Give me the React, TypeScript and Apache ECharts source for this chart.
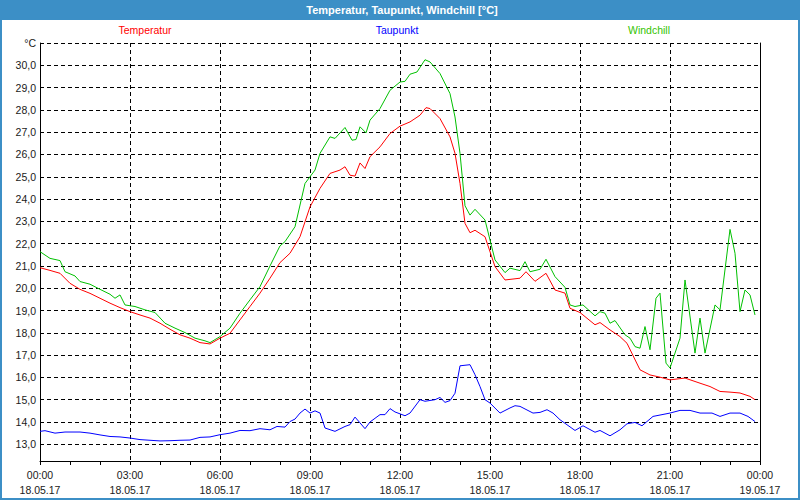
import React, { useEffect, useRef } from "react";
import * as echarts from "echarts";

// minutes since 18.05.17 00:00
const tempTimes = [0, 20, 40, 60, 80, 100, 120, 140, 160, 180, 200, 220, 240, 260, 280, 300, 320, 340, 360, 380, 400, 420, 440, 460, 480, 500, 520, 540, 560, 580, 600, 610, 620, 630, 640, 650, 660, 680, 700, 720, 740, 760, 772, 780, 800, 820, 830, 840, 850, 860, 870, 890, 910, 930, 960, 972, 990, 1012, 1030, 1050, 1060, 1080, 1110, 1120, 1140, 1160, 1174, 1200, 1220, 1240, 1260, 1290, 1320, 1340, 1360, 1380, 1400, 1420, 1430];
const tempValues = [20.92, 20.8, 20.67, 20.22, 19.95, 19.77, 19.55, 19.33, 19.13, 18.95, 18.8, 18.66, 18.43, 18.16, 17.91, 17.76, 17.56, 17.5, 17.76, 17.98, 18.58, 19.18, 19.78, 20.45, 21.15, 21.57, 22.31, 23.65, 24.48, 25.15, 25.3, 25.45, 25.07, 25.03, 25.62, 25.37, 25.9, 26.34, 26.94, 27.27, 27.46, 27.76, 28.1, 28.06, 27.61, 26.79, 26.05, 24.7, 22.91, 22.49, 22.6, 22.31, 20.97, 20.37, 20.45, 20.74, 20.31, 20.67, 19.92, 19.78, 19.1, 18.91, 18.36, 18.46, 18.13, 17.83, 17.53, 16.34, 16.11, 16.01, 15.89, 15.97, 15.74, 15.59, 15.37, 15.34, 15.3, 15.15, 15.0];

const dewTimes = [0, 10, 30, 50, 80, 100, 120, 140, 160, 180, 200, 220, 240, 260, 280, 300, 320, 340, 360, 380, 400, 420, 440, 460, 474, 490, 500, 510, 520, 530, 540, 550, 560, 570, 590, 610, 620, 630, 650, 660, 680, 690, 700, 710, 730, 740, 760, 770, 790, 800, 810, 820, 830, 840, 860, 870, 880, 890, 900, 920, 940, 950, 960, 986, 1000, 1014, 1026, 1040, 1070, 1086, 1110, 1120, 1140, 1160, 1174, 1190, 1204, 1226, 1260, 1280, 1300, 1320, 1344, 1360, 1380, 1400, 1416, 1430];
const dewValues = [13.58, 13.61, 13.5, 13.55, 13.55, 13.5, 13.42, 13.35, 13.33, 13.28, 13.21, 13.18, 13.15, 13.16, 13.18, 13.19, 13.31, 13.33, 13.43, 13.5, 13.62, 13.61, 13.7, 13.65, 13.8, 13.77, 14.02, 14.13, 14.4, 14.58, 14.4, 14.5, 14.4, 13.73, 13.58, 13.8, 13.88, 14.22, 13.7, 14.0, 14.33, 14.33, 14.6, 14.45, 14.28, 14.4, 15.0, 14.93, 15.0, 15.1, 14.88, 14.96, 15.29, 16.52, 16.57, 16.12, 15.59, 15.0, 14.85, 14.4, 14.63, 14.73, 14.7, 14.4, 14.43, 14.55, 14.4, 14.1, 13.62, 13.83, 13.54, 13.62, 13.38, 13.65, 13.92, 13.98, 13.83, 14.25, 14.4, 14.52, 14.52, 14.4, 14.4, 14.25, 14.4, 14.4, 14.25, 14.02];

const windTimes = [0, 20, 40, 50, 70, 80, 100, 120, 140, 150, 160, 170, 190, 210, 230, 250, 270, 290, 310, 330, 340, 360, 380, 400, 420, 440, 460, 480, 490, 510, 530, 550, 560, 580, 590, 610, 624, 632, 640, 652, 660, 680, 700, 720, 730, 740, 754, 770, 780, 800, 820, 830, 840, 850, 860, 870, 890, 910, 930, 940, 960, 970, 980, 1000, 1012, 1030, 1050, 1060, 1070, 1086, 1110, 1120, 1130, 1140, 1150, 1170, 1180, 1190, 1200, 1210, 1220, 1232, 1240, 1252, 1260, 1280, 1290, 1310, 1320, 1330, 1350, 1360, 1380, 1390, 1400, 1410, 1420, 1430];
const windValues = [21.64, 21.34, 21.24, 20.74, 20.55, 20.3, 20.18, 19.95, 19.73, 19.55, 19.7, 19.25, 19.18, 19.03, 18.91, 18.43, 18.21, 18.01, 17.76, 17.64, 17.56, 17.83, 18.21, 18.88, 19.48, 20.07, 21.0, 21.9, 22.09, 22.76, 24.7, 25.3, 26.05, 26.79, 26.72, 27.21, 26.64, 26.67, 27.24, 26.97, 27.54, 28.06, 28.88, 29.25, 29.28, 29.6, 29.7, 30.25, 30.15, 29.63, 28.73, 27.68, 26.05, 23.7, 23.28, 23.54, 23.06, 21.27, 20.7, 20.9, 20.79, 21.19, 20.74, 20.85, 21.3, 20.52, 20.04, 19.25, 19.18, 19.25, 18.76, 18.95, 18.88, 18.43, 18.55, 17.91, 17.76, 17.38, 17.31, 18.28, 17.24, 19.55, 19.78, 16.64, 16.42, 17.76, 20.37, 17.09, 18.66, 17.09, 19.25, 19.03, 22.64, 21.57, 18.95, 19.92, 19.7, 18.8];

const seriesNames = ["Temperatur", "Taupunkt", "Windchill"];
const titleText = "Temperatur, Taupunkt, Windchill [°C]";
const dateLabels = ["18.05.17", "19.05.17"];

const zip = (t: number[], v: number[]) => t.map((x, i) => [x, v[i]]);

export default function App() {
  const ref = useRef<HTMLDivElement>(null);
  useEffect(() => {
    if (!ref.current) return;
    const chart = echarts.init(ref.current, null, { renderer: "svg" });
    const font = "Liberation Sans";
    const blue = "#3c8fc6";
    chart.setOption({
      animation: false,
      backgroundColor: "#ffffff",
      textStyle: { fontFamily: font },
      grid: { left: 40, right: 40, top: 43, bottom: 39, containLabel: false },
      xAxis: {
        type: "value",
        min: 0,
        max: 1440,
        interval: 180,
        axisLine: { show: true, onZero: false, lineStyle: { color: "#000", width: 1 } },
        axisTick: { show: true, length: 4, lineStyle: { color: "#000" } },
        minorTick: { show: true, splitNumber: 3, length: 4, lineStyle: { color: "#000" } },
        splitLine: { show: true, lineStyle: { color: "#000", type: [4, 3], width: 1 } },
        axisLabel: {
          color: "#1a1a1a",
          fontSize: 10.5,
          fontFamily: font,
          lineHeight: 15,
          margin: 6,
          formatter: (v: number) => {
            const h = Math.round(v / 60) % 24;
            const hh = (h < 10 ? "0" : "") + h + ":00";
            return hh + "\n" + (v >= 1440 ? dateLabels[1] : dateLabels[0]);
          },
        },
      },
      yAxis: [
        {
          type: "value",
          min: 12.25,
          max: 31,
          splitNumber: 19,
          minInterval: 1,
          maxInterval: 1,
          axisLine: { show: true, lineStyle: { color: "#000", width: 1 } },
          axisTick: { show: false },
          splitLine: { show: true, lineStyle: { color: "#000", type: [4, 3], width: 1 } },
          axisLabel: {
            color: "#1a1a1a",
            fontSize: 10.5,
            fontFamily: font,
            margin: 4,
            showMinLabel: true,
            showMaxLabel: true,
            formatter: (v: number) => {
              if (Math.abs(v - 31) < 1e-6) return "°C";
              if (Math.abs(v - Math.round(v)) > 1e-6) return "";
              return Math.round(v).toFixed(1).replace(".", ",");
            },
          },
        },
        {
          type: "value",
          position: "right",
          min: 12.25,
          max: 31,
          axisLine: { show: true, lineStyle: { color: "#000", width: 1 } },
          axisTick: { show: false },
          axisLabel: { show: false },
          splitLine: { show: false },
        },
      ],
      series: [
        {
          name: seriesNames[2],
          type: "line",
          showSymbol: false,
          data: zip(windTimes, windValues),
          lineStyle: { color: "#00c000", width: 1 },
          itemStyle: { color: "#00c000" },
          z: 2,
        },
        {
          name: seriesNames[0],
          type: "line",
          showSymbol: false,
          data: zip(tempTimes, tempValues),
          lineStyle: { color: "#ff0000", width: 1 },
          itemStyle: { color: "#ff0000" },
          z: 3,
        },
        {
          name: seriesNames[1],
          type: "line",
          showSymbol: false,
          data: zip(dewTimes, dewValues),
          lineStyle: { color: "#0000ff", width: 1 },
          itemStyle: { color: "#0000ff" },
          z: 4,
        },
      ],
      graphic: [
        { type: "rect", shape: { x: 0, y: 0, width: 800, height: 20 }, style: { fill: blue } },
        {
          type: "text",
          x: 402,
          y: 10,
          style: {
            text: titleText,
            fill: "#ffffff",
            font: `bold 11px "${font}"`,
            align: "center",
            verticalAlign: "middle",
          },
        },
        {
          type: "text",
          x: 145,
          y: 30,
          style: { text: seriesNames[0], fill: "#ff0000", font: `10.5px "${font}"`, align: "center", verticalAlign: "middle" },
        },
        {
          type: "text",
          x: 397,
          y: 30,
          style: { text: seriesNames[1], fill: "#0000ff", font: `10.5px "${font}"`, align: "center", verticalAlign: "middle" },
        },
        {
          type: "text",
          x: 649,
          y: 30,
          style: { text: seriesNames[2], fill: "#33c400", font: `10.5px "${font}"`, align: "center", verticalAlign: "middle" },
        },
        {
          type: "rect",
          shape: { x: 1, y: 1, width: 798, height: 498 },
          style: { fill: "none", stroke: blue, lineWidth: 2 },
          silent: true,
        },
      ],
    });
    return () => chart.dispose();
  }, []);
  return <div ref={ref} style={{ position: "absolute", left: 0, top: 0, width: 800, height: 500 }} />;
}
